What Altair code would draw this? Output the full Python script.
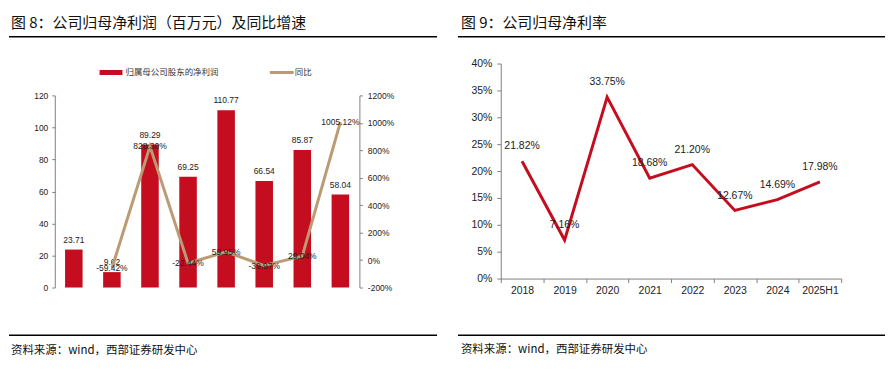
import altair as alt
import pandas as pd

years = ["2018", "2019", "2020", "2021", "2022", "2023", "2024", "2025H1"]
profit = [23.71, 9.62, 89.29, 69.25, 110.77, 66.54, 85.87, 58.04]
yoy_pct = [None, -59.42, 828.30, -22.44, 59.95, -39.97, 29.04, 1005.12]
margin_pct = [21.82, 7.16, 33.75, 18.68, 21.20, 12.67, 14.69, 17.98]

left_ticks = [0, 20, 40, 60, 80, 100, 120]
yoy_ticks = [-2, 0, 2, 4, 6, 8, 10, 12]
margin_ticks = [0, 0.05, 0.10, 0.15, 0.20, 0.25, 0.30, 0.35, 0.40]

title_left = "图 8：公司归母净利润（百万元）及同比增速"
title_right = "图 9：公司归母净利率"
source = "资料来源：wind，西部证券研发中心"
legend_bar = "归属母公司股东的净利润"
legend_line = "同比"

CJK = "Noto Sans CJK SC"
NUM = "Liberation Sans"
RED = "#C40D1E"
TAN = "#BC9B74"
AXC = "#808080"

df_bar = pd.DataFrame({"year": years, "profit": profit,
                       "plabel": [f"{v:.2f}" for v in profit]})
df_yoy = pd.DataFrame({"year": years[1:],
                       "yoy": [v / 100 for v in yoy_pct[1:]],
                       "ylabel": [f"{v:.2f}%" for v in yoy_pct[1:]]})
df_m = pd.DataFrame({"year": years,
                     "m": [v / 100 for v in margin_pct],
                     "mlabel": [f"{v:.2f}%" for v in margin_pct]})


def txt(text, x, y, size, font=CJK, align="left", baseline="middle", color="#111"):
    return alt.Chart(pd.DataFrame({"t": [text]})).mark_text(
        align=align, baseline=baseline, fontSize=size, font=font, color=color
    ).encode(x=alt.value(x), y=alt.value(y), text="t:N")


def hrule(x1, x2, y, width=1.5, color="#000"):
    return alt.Chart(pd.DataFrame({"a": [0]})).mark_rule(
        color=color, strokeWidth=width
    ).encode(x=alt.value(x1), x2=alt.value(x2), y=alt.value(y))


def yaxis(values, **kw):
    base = dict(values=values, tickCount=len(values), grid=False, labelFont=NUM,
                labelColor="#222", domainColor=AXC, tickColor=AXC, labelOverlap=False)
    base.update(kw)
    return alt.Axis(**base)


PCT_EXPR = "replace(format(datum.value, '.0%'), '\u2212', '-')"

# ---------------- Left panel ----------------
LW, LH = 306, 193
xl = alt.X("year:N", sort=years, title=None,
           scale=alt.Scale(type="band", paddingInner=0.54, paddingOuter=0.27),
           axis=alt.Axis(labelAngle=0, labelFontSize=8.5, labelFont=NUM, labelColor="#222",
                         domainColor=AXC, tickColor=AXC, tickSize=3, labelPadding=3,
                         tickBand="extent", labelOverlap=False))
bars = alt.Chart(df_bar).mark_bar(color=RED).encode(
    x=xl,
    y=alt.Y("profit:Q", title=None, scale=alt.Scale(domain=[0, 120], nice=False),
            axis=yaxis(left_ticks, labelFontSize=8.5, tickSize=3, labelPadding=4)),
)
bar_labels = alt.Chart(df_bar).mark_text(
    baseline="bottom", dy=-5, fontSize=8.5, font=NUM, color="#222"
).encode(x=alt.X("year:N", sort=years), y="profit:Q", text="plabel:N")
left_bars = alt.layer(bars, bar_labels)

yoy_line = alt.Chart(df_yoy).mark_line(color=TAN, strokeWidth=3).encode(
    x=alt.X("year:N", sort=years, axis=None),
    y=alt.Y("yoy:Q", title=None, scale=alt.Scale(domain=[-2, 12], nice=False),
            axis=yaxis(yoy_ticks, orient="right", labelExpr=PCT_EXPR, labelFontSize=8.5,
                       tickSize=3, labelPadding=5)),
)
yoy_labels = alt.Chart(df_yoy).mark_text(
    baseline="middle", fontSize=8.5, font=NUM, color="#222"
).encode(x=alt.X("year:N", sort=years), y="yoy:Q", text="ylabel:N")
left_line = alt.layer(yoy_line, yoy_labels)

leg_rect = alt.Chart(pd.DataFrame({"a": [0]})).mark_rect(color=RED).encode(
    x=alt.value(45), x2=alt.value(68), y=alt.value(-25.5), y2=alt.value(-20.5))
leg_line = hrule(216, 240, -23, width=3, color=TAN)

left = alt.layer(
    left_bars, left_line,
    txt(title_left, -44, -73, 15),
    hrule(-46, 384, -59),
    leg_rect, txt(legend_bar, 71, -23, 8.5, color="#333"),
    leg_line, txt(legend_line, 241, -23, 8.5, color="#333"),
    hrule(-46, 384, 241),
    txt(source, -44, 257, 11.5),
).resolve_scale(y="independent").properties(width=LW, height=LH)

# ---------------- Right panel ----------------
# plot origin is aligned with the left panel's; the plot area reaches 32px above it
RW, RH = 342, 184
m_line = alt.Chart(df_m).mark_line(color=RED, strokeWidth=3).encode(
    x=alt.X("year:N", sort=years, title=None,
            scale=alt.Scale(type="band", paddingInner=0, paddingOuter=0),
            axis=alt.Axis(labelAngle=0, labelFontSize=10.5, labelFont=NUM, labelColor="#222",
                          domainColor=AXC, tickColor=AXC, tickSize=4, labelPadding=3,
                          tickBand="extent", labelOverlap=False)),
    y=alt.Y("m:Q", title=None, scale=alt.Scale(domain=[0, 0.4], nice=False, range=[RH, -32]),
            axis=yaxis(margin_ticks, format=".0%", labelFontSize=10.5,
                       tickSize=4, labelPadding=5)),
)
m_labels = alt.Chart(df_m).mark_text(
    baseline="middle", dy=-15, fontSize=10.5, font=NUM, color="#222"
).encode(x=alt.X("year:N", sort=years), y="m:Q", text="mlabel:N")

right = alt.layer(
    m_line, m_labels,
    txt(title_right, -40, -73, 15),
    hrule(-43, 386, -59),
    hrule(-43, 386, 241),
    txt(source, -40, 256, 11.5),
).properties(width=RW, height=RH)

chart = alt.hconcat(left, right, spacing=19).properties(
    padding={"left": 0, "top": 7, "right": 0, "bottom": 0}
).configure_view(stroke=None)

chart.save("out.html", embed_options={"renderer": "svg", "actions": False})
